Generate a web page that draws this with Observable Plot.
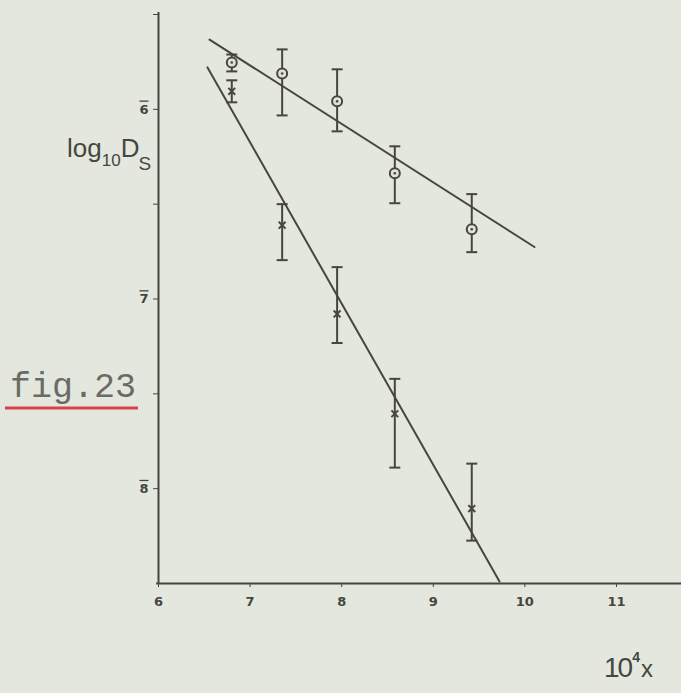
<!DOCTYPE html>
<html>
<head>
<meta charset="utf-8">
<script src="https://cdn.jsdelivr.net/npm/d3@7"></script>
<script src="https://cdn.jsdelivr.net/npm/@observablehq/plot@0.6"></script>
<style>
  html, body { margin: 0; padding: 0; background: #e4e7dd; }
  #chart { width: 681px; height: 693px; }
</style>
</head>
<body>
<div id="chart"></div>
<script>
// ---- data (x = 10^4 x, y = log10 Ds) ----
const xValues   = [6.80, 7.35, 7.95, 8.58, 9.42];
const circleY   = [-5.753, -5.811, -5.958, -6.337, -6.632];
const circleLow = [-5.800, -6.032, -6.116, -6.495, -6.753];
const circleHigh= [-5.711, -5.684, -5.789, -6.195, -6.447];
const crossY    = [-5.905, -6.611, -7.079, -7.605, -8.105];
const crossLow  = [-5.963, -6.795, -7.232, -7.889, -8.274];
const crossHigh = [-5.847, -6.500, -6.832, -7.421, -7.868];
const upperFitX = [6.557, 10.105];
const upperFitY = [-5.632, -6.726];
const lowerFitX = [6.535, 9.723];
const lowerFitY = [-5.779, -8.489];
const xTicks = [6, 7, 8, 9, 10, 11];
const xTickLabels = ["6", "7", "8", "9", "10", "11"];
const yTicks = [-5.5, -6, -6.5, -7, -7.5, -8];
const yTickLabels = ["", "6", "", "7", "", "8"];   // drawn with an overbar (bar notation)

const circles = xValues.map((x, i) => ({x, y: circleY[i], lo: circleLow[i], hi: circleHigh[i]}));
const crosses = xValues.map((x, i) => ({x, y: crossY[i], lo: crossLow[i], hi: crossHigh[i]}));
const upperFit = upperFitX.map((x, i) => ({x, y: upperFitY[i]}));
const lowerFit = lowerFitX.map((x, i) => ({x, y: lowerFitY[i]}));

const ink = "#45463f";
const capSymbol = {
  draw(ctx, size) {
    const r = Math.sqrt(size / Math.PI);
    ctx.moveTo(-r, 0); ctx.lineTo(r, 0);
  }
};

const plot = Plot.plot({
  width: 681,
  height: 693,
  marginLeft: 158,
  marginRight: 0,
  marginTop: 14,
  marginBottom: 110,
  style: {background: "transparent", color: ink, fontFamily: "DejaVu Sans", fontSize: "13px", fontWeight: "bold", overflow: "visible"},
  x: {domain: [6, 11.71], ticks: xTicks, tickFormat: d => xTickLabels[xTicks.indexOf(d)], tickSize: 4, tickPadding: 9, label: null},
  y: {domain: [-8.5, -5.5], ticks: yTicks, tickFormat: d => yTickLabels[yTicks.indexOf(d)], tickSize: 5, tickPadding: 5, label: null},
  marks: [
    Plot.ruleX([6], {y1: -8.5, y2: -5.49, stroke: ink, strokeWidth: 2}),
    Plot.ruleY([-8.5], {x1: 5.98, x2: 11.71, stroke: ink, strokeWidth: 2}),
    Plot.line(upperFit, {x: "x", y: "y", stroke: ink, strokeWidth: 2}),
    Plot.line(lowerFit, {x: "x", y: "y", stroke: ink, strokeWidth: 2}),
    Plot.ruleX(circles, {x: "x", y1: "lo", y2: "hi", stroke: ink, strokeWidth: 2}),
    Plot.dot(circles, {x: "x", y: "lo", symbol: capSymbol, r: 5.5, stroke: ink, strokeWidth: 2}),
    Plot.dot(circles, {x: "x", y: "hi", symbol: capSymbol, r: 5.5, stroke: ink, strokeWidth: 2}),
    Plot.dot(circles, {x: "x", y: "y", r: 5, fill: "#dfe3d8", stroke: ink, strokeWidth: 2}),
    Plot.dot(circles, {x: "x", y: "y", r: 1.3, fill: ink}),
    Plot.ruleX(crosses, {x: "x", y1: "lo", y2: "hi", stroke: ink, strokeWidth: 2}),
    Plot.dot(crosses, {x: "x", y: "lo", symbol: capSymbol, r: 5.5, stroke: ink, strokeWidth: 2}),
    Plot.dot(crosses, {x: "x", y: "hi", symbol: capSymbol, r: 5.5, stroke: ink, strokeWidth: 2}),
    Plot.dot(crosses, {x: "x", y: "y", symbol: "times", r: 3.2, stroke: ink, strokeWidth: 2})
  ]
});

const svg = d3.select(plot);
// bar notation: overline the y tick labels
svg.selectAll("[aria-label='y-axis tick label'] text, g[aria-label^='y-axis'] text")
  .style("text-decoration", "overline");

// y-axis label log10 Ds
const yl = svg.append("text").attr("x", 67).attr("y", 157).attr("text-anchor", "start")
  .attr("font-family", "Liberation Sans").attr("font-weight", "normal")
  .attr("font-size", 26).attr("fill", ink);
yl.append("tspan").text("log");
yl.append("tspan").attr("dy", 9).attr("font-size", 17).text("10");
yl.append("tspan").attr("dy", -9).text("D");
yl.append("tspan").attr("dy", 13).attr("dx", -1).attr("font-size", 19).text("S");

// x-axis label 10^4 x
const xl = svg.append("text").attr("x", 604).attr("y", 677).attr("text-anchor", "start")
  .attr("font-family", "Liberation Sans").attr("font-weight", "normal")
  .attr("font-size", 28).attr("fill", ink);
xl.append("tspan").attr("letter-spacing", -2).text("10");
xl.append("tspan").attr("dy", -15).attr("dx", 1).attr("font-size", 14).attr("font-weight", "bold").text("4");
xl.append("tspan").attr("dy", 15).attr("dx", 1).attr("font-size", 24).text("x");

// figure tag
svg.append("text").attr("x", 10).attr("y", 397).attr("text-anchor", "start")
  .attr("font-family", "Liberation Mono").attr("font-weight", "normal")
  .attr("font-size", 35).attr("fill", "#6a6b66")
  .text("fig.23");
svg.append("line").attr("x1", 5).attr("x2", 138).attr("y1", 408).attr("y2", 408)
  .attr("stroke", "#d9424a").attr("stroke-width", 3);

document.getElementById("chart").appendChild(plot);
</script>
</body>
</html>
